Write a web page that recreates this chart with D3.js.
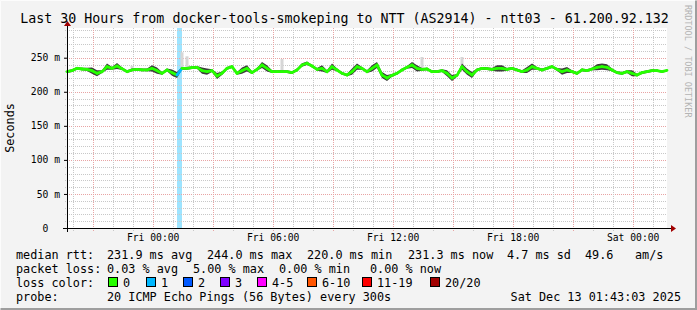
<!DOCTYPE html>
<html>
<head>
<meta charset="utf-8">
<script src="https://cdn.jsdelivr.net/npm/d3@7"></script>
<style>
  body { margin: 0; background: #f3f3f3; }
  svg { display: block; }
  text { font-family: "DejaVu Sans Mono", monospace; fill: #000; }
</style>
</head>
<body>
<div id="viz"></div>
<script>
// ---- data ----
const TITLE = 'Last 30 Hours from docker-tools-smokeping to NTT (AS2914) - ntt03 - 61.200.92.132';
const START = '2025-12-11T19:43:03Z';
const END = '2025-12-13T01:43:03Z';
const STEP_MIN = 15;

// median rtt (ms), one value every 15 minutes
const medianMs = [
  229.5, 231.0, 234.4, 233.4, 232.9, 231.0, 227.1, 229.5, 236.9, 234.4,
  237.8, 233.9, 229.5, 232.0, 232.9, 232.0, 232.0, 234.4, 231.0, 227.1,
  232.0, 228.1, 224.6, 234.4, 234.4, 235.4, 235.9, 231.0, 229.5, 231.0,
  223.2, 227.1, 234.4, 236.9, 227.1, 231.0, 234.4, 228.1, 232.9, 239.3,
  234.4, 229.5, 229.5, 229.5, 229.5, 228.1, 232.0, 239.3, 241.8, 237.8,
  232.9, 234.4, 229.5, 236.9, 232.0, 227.1, 224.6, 229.5, 236.9, 234.4,
  229.5, 234.4, 239.3, 224.6, 220.2, 224.1, 227.1, 232.0, 235.9, 239.3,
  234.4, 232.9, 233.4, 229.5, 229.5, 231.0, 227.1, 220.2, 224.1, 236.9,
  229.5, 224.6, 232.0, 234.4, 233.9, 232.9, 234.4, 234.4, 232.9, 234.4,
  232.0, 229.5, 232.0, 236.9, 234.4, 232.0, 234.4, 236.9, 232.9, 229.5,
  232.0, 229.5, 227.1, 232.0, 231.0, 233.4, 235.9, 236.9, 235.9, 232.0,
  228.1, 227.1, 229.5, 227.1, 224.6, 228.1, 229.5, 231.0, 231.0, 229.5,
  231.3
];

// half width of the dark smoke band (ms)
const smokeMs = [
  2.0, 2.0, 2.0, 2.0, 2.5, 4.5, 4.5, 2.0, 4.5, 2.0,
  4.5, 2.0, 2.0, 2.0, 2.0, 2.0, 2.0, 4.5, 4.5, 2.0,
  2.0, 4.5, 4.5, 2.0, 2.0, 2.0, 2.0, 4.5, 4.5, 2.0,
  4.5, 2.5, 2.0, 2.0, 2.0, 4.5, 4.5, 2.0, 2.0, 4.5,
  4.5, 2.0, 2.0, 2.0, 2.0, 2.0, 2.0, 2.5, 2.5, 2.0,
  2.0, 4.5, 2.0, 4.5, 2.0, 2.0, 2.0, 4.5, 4.5, 2.0,
  2.0, 4.5, 4.5, 4.5, 4.5, 2.0, 2.0, 2.0, 2.0, 4.5,
  4.5, 2.0, 2.0, 2.0, 2.0, 2.0, 4.5, 4.5, 2.0, 4.5,
  4.5, 4.5, 2.0, 2.0, 2.0, 2.0, 4.5, 4.5, 2.0, 2.0,
  2.0, 2.0, 4.5, 4.5, 2.0, 2.0, 2.0, 2.0, 2.0, 4.5,
  4.5, 2.0, 2.0, 2.0, 2.0, 2.0, 4.5, 4.5, 4.5, 2.0,
  2.0, 2.0, 2.0, 4.5, 2.0, 2.0, 2.0, 2.0, 1.5, 1.5,
  1.5
];

// light grey outlier smoke: [step index, highest ping ms]
const outliers = [[13, 238], [23, 258], [24, 252], [43, 248], [71, 251], [79, 251]];

// packet loss: [step index, lost pings out of 20]
const losses = [[22, 1]];

const yTicks = [0, 50, 100, 150, 200, 250];
const Y_MAX = 293.6;

const lossLabels = ['0', '1', '2', '3', '4-5', '6-10', '11-19', '20/20'];
const lossColors = ['#26ff00', '#00b8ff', '#0059ff', '#7e00ff', '#ff00ff', '#ff5500', '#ff0000', '#a10000'];
const lossUpper = [0, 1, 2, 3, 5, 10, 19, 20];

const rttStats = ['median rtt:', '231.9 ms avg', '244.0 ms max', '220.0 ms min', '231.3 ms now', '4.7 ms sd', '49.6', 'am/s'];
const lossStats = ['packet loss:', '0.03 % avg', '5.00 % max', '0.00 % min', '0.00 % now'];
const probeInfo = ['probe:', '20 ICMP Echo Pings (56 Bytes) every 300s', 'Sat Dec 13 01:43:03 2025'];

// ---- layout ----
const W = 697;
const H = 310;
const PLOT = { left: 67, right: 667, top: 28, bottom: 228 };
const LEGEND_FONT = 11.8;

const svg = d3.select('#viz').append('svg')
  .attr('width', W)
  .attr('height', H);

// canvas + frame
svg.append('rect').attr('width', W).attr('height', H).attr('fill', '#f3f3f3');
svg.append('path').attr('d', `M0.5,${H - 1}V0.5H${W - 1}`).attr('stroke', '#fcfcfc').attr('fill', 'none');
svg.append('path').attr('d', `M${W - 1},0.5V${H - 1}H0.5`).attr('stroke', '#9e9e9e').attr('stroke-width', 2).attr('fill', 'none');

const start = new Date(START);
const end = new Date(END);
const times = medianMs.map((d, i) => new Date(start.getTime() + i * STEP_MIN * 60000));

const x = d3.scaleUtc().domain([start, end]).range([PLOT.left, PLOT.right]);
const y = d3.scaleLinear().domain([0, Y_MAX]).range([PLOT.bottom, PLOT.top]);

svg.append('rect')
  .attr('x', PLOT.left).attr('y', PLOT.top)
  .attr('width', PLOT.right - PLOT.left).attr('height', PLOT.bottom - PLOT.top)
  .attr('fill', '#fff');

// loss background bars
const stepW = x(times[1]) - x(times[0]);
svg.append('g').selectAll('rect')
  .data(losses)
  .join('rect')
  .attr('x', d => x(times[d[0]]))
  .attr('y', PLOT.top)
  .attr('width', stepW)
  .attr('height', PLOT.bottom - PLOT.top)
  .attr('fill', d => d3.interpolateRgb(lossColors[lossUpper.findIndex(u => d[1] <= u)], '#fff')(0.62));

// grid
const grid = svg.append('g').attr('shape-rendering', 'crispEdges');
const minorH = d3.range(10, Y_MAX, 10).filter(v => v % 50 !== 0);
grid.selectAll('.hmin').data(minorH).join('line')
  .attr('x1', PLOT.left - 2).attr('x2', PLOT.right)
  .attr('y1', d => Math.round(y(d)) + 0.5).attr('y2', d => Math.round(y(d)) + 0.5)
  .attr('stroke', '#c8c8c8').attr('stroke-dasharray', '1,1');
grid.selectAll('.hmaj').data(yTicks.slice(1)).join('line')
  .attr('x1', PLOT.left - 2).attr('x2', PLOT.right)
  .attr('y1', d => Math.round(y(d)) + 0.5).attr('y2', d => Math.round(y(d)) + 0.5)
  .attr('stroke', '#e8a4a4').attr('stroke-dasharray', '1,1');
const hours = d3.utcHour.range(start, end);
grid.selectAll('.vgrid').data(hours).join('line')
  .attr('x1', d => Math.round(x(d)) + 0.5).attr('x2', d => Math.round(x(d)) + 0.5)
  .attr('y1', PLOT.top).attr('y2', PLOT.bottom + 3)
  .attr('stroke', d => (d.getUTCHours() % 3 === 0 ? '#e8a4a4' : '#c8c8c8'))
  .attr('stroke-dasharray', '1,1');

// outlier smoke
svg.append('g').selectAll('rect')
  .data(outliers)
  .join('rect')
  .attr('x', d => x(times[d[0]]) - 1.5)
  .attr('width', 3)
  .attr('y', d => y(d[1]))
  .attr('height', d => y(medianMs[d[0]]) - y(d[1]))
  .attr('fill', '#d6d6d6');

// dark smoke band
const band = medianMs.map((m, i) => ({ t: times[i], lo: m - smokeMs[i], hi: m + smokeMs[i] }));
svg.append('path')
  .datum(band)
  .attr('fill', '#3c3c3c')
  .attr('d', d3.area().x(d => x(d.t)).y0(d => y(d.lo)).y1(d => y(d.hi)));

// median line, coloured by loss
const lossAt = new Map(losses.map(d => [d[0], d[1]]));
const segs = d3.pairs(medianMs.map((m, i) => ({ t: times[i], v: m, i })));
svg.append('g').selectAll('line')
  .data(segs)
  .join('line')
  .attr('x1', d => x(d[0].t)).attr('y1', d => y(d[0].v))
  .attr('x2', d => x(d[1].t)).attr('y2', d => y(d[1].v))
  .attr('stroke', d => {
    const l = lossAt.get(d[0].i) || 0;
    return lossColors[lossUpper.findIndex(u => l <= u)];
  })
  .attr('stroke-width', 2.8)
  .attr('stroke-linecap', 'round');

// axes
const yAxis = svg.append('g')
  .attr('transform', `translate(${PLOT.left},0)`)
  .call(d3.axisLeft(y).tickValues(yTicks).tickSize(3).tickPadding(4)
    .tickFormat(v => (v ? `${v} m` : '0  ')));
yAxis.select('.domain').remove();
yAxis.selectAll('text').attr('font-size', 9.7).attr('xml:space', 'preserve')
  .style('font-family', '"DejaVu Sans Mono", monospace');

const xAxis = svg.append('g')
  .attr('transform', `translate(0,${PLOT.bottom})`)
  .call(d3.axisBottom(x).ticks(d3.utcHour.every(6)).tickSize(0).tickPadding(6)
    .tickFormat(d3.utcFormat('%a %H:%M')));
xAxis.select('.domain').remove();
xAxis.selectAll('text').attr('font-size', 9.7)
  .style('font-family', '"DejaVu Sans Mono", monospace');

svg.append('line')
  .attr('x1', PLOT.left - 4).attr('x2', PLOT.right + 4)
  .attr('y1', PLOT.bottom + 0.5).attr('y2', PLOT.bottom + 0.5)
  .attr('stroke', '#000');
svg.append('line')
  .attr('x1', PLOT.left + 0.5).attr('x2', PLOT.left + 0.5)
  .attr('y1', PLOT.bottom + 4).attr('y2', PLOT.top - 3)
  .attr('stroke', '#000');
svg.append('path')
  .attr('d', `M${PLOT.right + 4},${PLOT.bottom - 3}l5,3.5l-5,3.5z`)
  .attr('fill', '#a10000');
svg.append('path')
  .attr('d', `M${PLOT.left - 3},${PLOT.top - 2}l3.5,-5l3.5,5z`)
  .attr('fill', '#a10000');

// titles
svg.append('text')
  .attr('x', (W - 14) / 2 + 3).attr('y', 23)
  .attr('text-anchor', 'middle').attr('font-size', 13.3)
  .text(TITLE);
svg.append('text')
  .attr('transform', `translate(14,${(PLOT.top + PLOT.bottom) / 2}) rotate(-90)`)
  .attr('text-anchor', 'middle').attr('font-size', 11.8)
  .text('Seconds');
svg.append('text')
  .attr('transform', 'translate(685,5) rotate(90)')
  .attr('font-size', 8.5).style('fill', '#b4b4b4')
  .text('RRDTOOL / TOBI OETIKER');

// legend
const col = [16, 107, 207, 307, 408, 507, 585, 635];
const legend = svg.append('g').attr('font-size', LEGEND_FONT);
legend.selectAll('.r1').data(rttStats).join('text')
  .attr('x', (d, i) => col[i]).attr('y', 259).text(d => d);
const col2 = [16, 107, 193, 279, 370];
legend.selectAll('.r2').data(lossStats).join('text')
  .attr('x', (d, i) => col2[i]).attr('y', 273).text(d => d);

legend.append('text').attr('x', 16).attr('y', 287).text('loss color:');
const boxX = [108, 146, 183, 220, 257, 307, 362, 430];
const lg = legend.selectAll('.lc').data(lossLabels).join('g')
  .attr('transform', (d, i) => `translate(${boxX[i]},277)`);
lg.append('rect')
  .attr('x', 0.5).attr('y', 0.5).attr('width', 9).attr('height', 9)
  .attr('fill', (d, i) => lossColors[i]).attr('stroke', '#000');
lg.append('text').attr('x', 15).attr('y', 10).text(d => d);

legend.append('text').attr('x', 16).attr('y', 301).text(probeInfo[0]);
legend.append('text').attr('x', 107).attr('y', 301).text(probeInfo[1]);
legend.append('text').attr('x', 681).attr('y', 301).attr('text-anchor', 'end').text(probeInfo[2]);
</script>
</body>
</html>
